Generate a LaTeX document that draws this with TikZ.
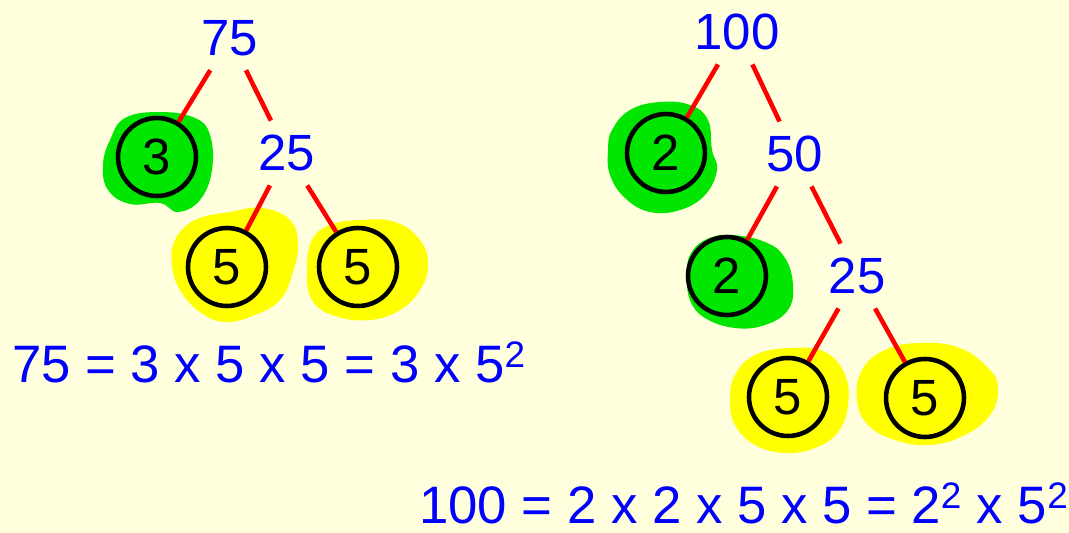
\documentclass[tikz,border=0pt]{standalone}
\usepackage{fontspec}
\setmainfont{Liberation Sans}
\usetikzlibrary{positioning,calc}
\definecolor{paper}{RGB}{255,255,221}
\definecolor{leafgreen}{RGB}{0,230,0}
\definecolor{leafyellow}{RGB}{255,255,0}

\begin{document}
\begin{tikzpicture}[
    x=0.02cm, y=-0.02cm,
    num/.style={text=blue, inner sep=8pt, font=\fontsize{29}{34}\selectfont},
    prime/.style={circle, draw=black, line width=2.6pt, minimum size=1.56cm, inner sep=0pt, font=\fontsize{29}{34}\selectfont},
    branch/.style={draw=red, line width=2.6pt},
    greenblob/.style={fill=leafgreen},
    yellowblob/.style={fill=leafyellow},
    eqn/.style={text=blue, inner sep=0pt, anchor=base west, font=\fontsize{30}{34}\selectfont}
]

% Background
\useasboundingbox (0,0) rectangle (1069,533);
\fill[paper] (0,0) rectangle (1069,533);

% Highlights
\fill[greenblob] plot[smooth cycle, tension=0.7] coordinates {(110,140) (125,118) (160,112) (195,118) (210,135) (212,170) (200,200) (178,212) (160,203) (130,204) (108,190) (103,165)};
\fill[yellowblob] plot[smooth cycle, tension=0.7] coordinates {(175,240) (195,220) (230,212) (262,208) (290,220) (298,245) (292,275) (280,300) (255,315) (225,322) (200,312) (180,290) (172,265)};
\fill[yellowblob] plot[smooth cycle, tension=0.7] coordinates {(312,240) (330,225) (360,220) (395,222) (420,240) (428,265) (420,290) (400,310) (370,320) (335,316) (312,300) (307,270)};
\fill[greenblob] plot[smooth cycle, tension=0.7] coordinates {(612,130) (630,110) (660,102) (690,105) (708,120) (712,150) (717,170) (705,195) (680,210) (650,212) (625,198) (610,175) (608,150)};
\fill[greenblob] plot[smooth cycle, tension=0.7] coordinates {(690,255) (705,240) (730,235) (765,242) (785,258) (793,285) (788,310) (765,325) (735,328) (705,318) (690,300) (687,275)};
\fill[yellowblob] plot[smooth cycle, tension=0.7] coordinates {(735,375) (755,355) (790,348) (825,352) (845,375) (848,405) (838,432) (815,448) (785,453) (755,445) (735,425) (730,400)};
\fill[yellowblob] plot[smooth cycle, tension=0.7] coordinates {(862,370) (885,350) (920,343) (960,348) (990,370) (998,390) (990,415) (965,435) (930,445) (895,440) (868,425) (857,400)};

% Nodes, tree of 75
\node[num] (n75) at (230,38) {75};
\node[prime] (p3) at (157,157) {3};
\node[num] (n25a) at (287,153) {25};
\node[prime] (p5a) at (227,267) {5};
\node[prime] (p5b) at (358,267) {5};

% Nodes, tree of 100
\node[num] (n100) at (737,32) {100};
\node[prime] (p2a) at (666,153) {2};
\node[num] (n50) at (795,154) {50};
\node[prime] (p2b) at (727,276) {2};
\node[num] (n25b) at (857,276) {25};
\node[prime] (p5c) at (788,397) {5};
\node[prime] (p5d) at (925,398) {5};

% Results
\node[eqn] (eq75) at (12,383) {75 = 3 x 5 x 5 = 3 x 5\textsuperscript{2}};
\node[eqn] (eq100) at (419,524) {100 = 2 x 2 x 5 x 5 = 2\textsuperscript{2} x 5\textsuperscript{2}};

% Edges
\draw[branch] (n75) -- (p3);
\draw[branch] (n75) -- (n25a);
\draw[branch] (n25a) -- (p5a);
\draw[branch] (n25a) -- (p5b);

\draw[branch] (n100) -- (p2a);
\draw[branch] (n100) -- (n50);
\draw[branch] (n50) -- (p2b);
\draw[branch] (n50) -- (n25b);
\draw[branch] (n25b) -- (p5c);
\draw[branch] (n25b) -- (p5d);

\end{tikzpicture}
\end{document}
